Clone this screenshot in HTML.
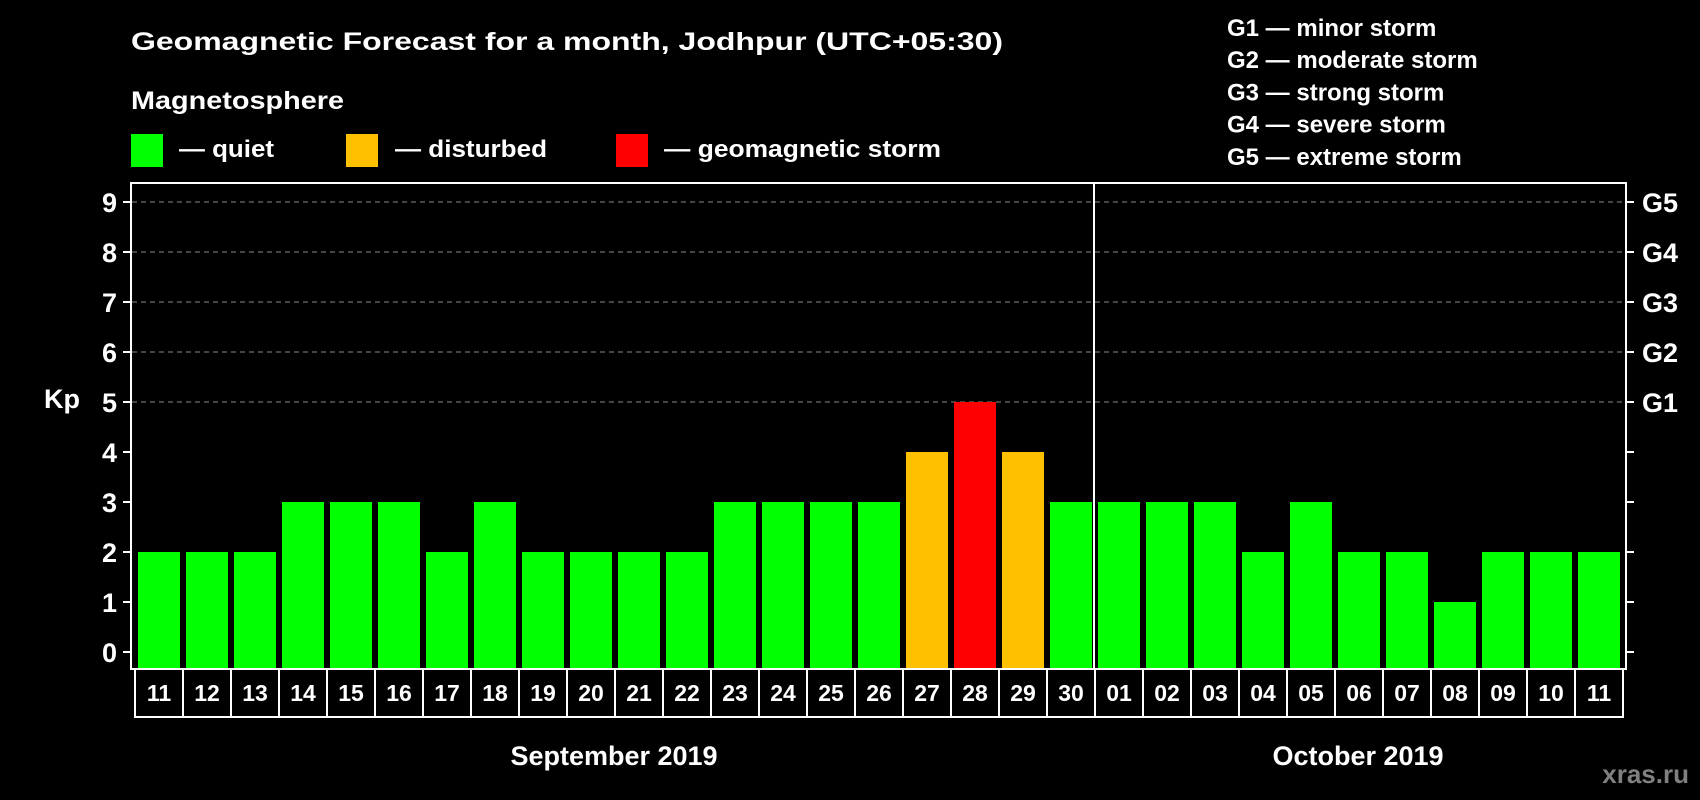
<!DOCTYPE html>
<html><head><meta charset="utf-8"><style>
html,body{margin:0;padding:0;background:#000;}
svg{display:block;font-family:"Liberation Sans",Arial,sans-serif;font-weight:bold;}
</style></head><body>
<svg id="chart" width="1700" height="800" viewBox="0 0 1700 800" xmlns="http://www.w3.org/2000/svg">
<rect width="1700" height="800" fill="#000"/>
<text x="131" y="50" fill="#fff" font-size="25" textLength="872" lengthAdjust="spacingAndGlyphs">Geomagnetic Forecast for a month, Jodhpur (UTC+05:30)</text>
<text x="131" y="109" fill="#fff" font-size="25" textLength="213" lengthAdjust="spacingAndGlyphs">Magnetosphere</text>
<g>
<rect x="131" y="134" width="32" height="33" fill="#00ff00"/>
<text x="179" y="157" fill="#fff" font-size="24" textLength="95" lengthAdjust="spacingAndGlyphs">— quiet</text></g>
<g>
<rect x="346" y="134" width="32" height="33" fill="#ffc000"/>
<text x="395" y="157" fill="#fff" font-size="24" textLength="152" lengthAdjust="spacingAndGlyphs">— disturbed</text></g>
<g>
<rect x="616" y="134" width="32" height="33" fill="#ff0000"/>
<text x="664" y="157" fill="#fff" font-size="24" textLength="277" lengthAdjust="spacingAndGlyphs">— geomagnetic storm</text></g>
<g id="glegend"></g>
<g id="grid"></g>
<g id="bars"></g>
<rect x="131" y="183" width="1495" height="486" fill="none" stroke="#fff" stroke-width="2"/>
<line x1="1094" y1="183" x2="1094" y2="669" stroke="#fff" stroke-width="2"/>
<g id="axes"></g>
<g id="days"></g>
<text x="62" y="408" fill="#fff" font-size="27" text-anchor="middle">Kp</text>
<text x="614" y="765" fill="#fff" font-size="27" text-anchor="middle">September 2019</text>
<text x="1358" y="765" fill="#fff" font-size="27" text-anchor="middle">October 2019</text>
<text x="1689" y="783" fill="#808080" font-size="26" text-anchor="end">xras.ru</text>
</svg>
<script>
const days = ["11","12","13","14","15","16","17","18","19","20","21","22","23","24","25","26","27","28","29","30","01","02","03","04","05","06","07","08","09","10","11"];
const kpValues = [2,2,2,3,3,3,2,3,2,2,2,2,3,3,3,3,4,5,4,3,3,3,3,2,3,2,2,1,2,2,2];
const yTicks = [0,1,2,3,4,5,6,7,8,9];
const gLevels = ["G1","G2","G3","G4","G5"];
const gDescriptions = ["minor storm","moderate storm","strong storm","severe storm","extreme storm"];

const NS = "http://www.w3.org/2000/svg";
function el(tag, attrs, parent){const e=document.createElementNS(NS,tag);for(const k in attrs)e.setAttribute(k,attrs[k]);parent.appendChild(e);return e;}
const y = v => 652 - v*50;
const x = i => 138 + i*48;
const barW = 42;
const colorFor = v => v >= 5 ? "#ff0000" : (v >= 4 ? "#ffc000" : "#00ff00");

const grid=document.getElementById("grid"), bars=document.getElementById("bars"), axes=document.getElementById("axes"), daysG=document.getElementById("days"), gl=document.getElementById("glegend");

yTicks.forEach(t=>{
  if(t>=5){
    const g=el("line",{x1:132,x2:1625,y1:y(t),y2:y(t),stroke:"#8a8a8a","stroke-width":1,"stroke-dasharray":"5,4"},grid);
    
    
  }
  const lt=el("line",{x1:123,x2:131,y1:y(t),y2:y(t),stroke:"#fff","stroke-width":2},axes);
  
  
  const rt=el("line",{x1:1626,x2:1634,y1:y(t),y2:y(t),stroke:"#fff","stroke-width":2},axes);
  
  
  const tl=el("text",{x:117,y:y(t)+10,fill:"#fff","font-size":27,"text-anchor":"end"},axes);
  tl.textContent=String(t);
  
  
});
gLevels.forEach((g,i)=>{
  const t=el("text",{x:1642,y:y(5+i)+10,fill:"#fff","font-size":27},axes);
  t.textContent=g;
  
  
  const lg=el("text",{x:1227,y:36+i*32.2,fill:"#fff","font-size":24},gl);
  lg.textContent=g+" — "+gDescriptions[i];
  
  
});
kpValues.forEach((v,i)=>{
  const r=el("rect",{x:x(i),y:y(v),width:barW,height:668-y(v),fill:colorFor(v)},bars);
  
  
});
days.forEach((d,i)=>{
  const bx=135+i*48;
  const b=el("rect",{x:bx,y:669,width:48,height:48,fill:"#000",stroke:"#fff","stroke-width":2},daysG);
  
  
  const t=el("text",{x:bx+24,y:701,fill:"#fff","font-size":23,"text-anchor":"middle"},daysG);
  t.textContent=d;
  
  
});
</script>
</body></html>
